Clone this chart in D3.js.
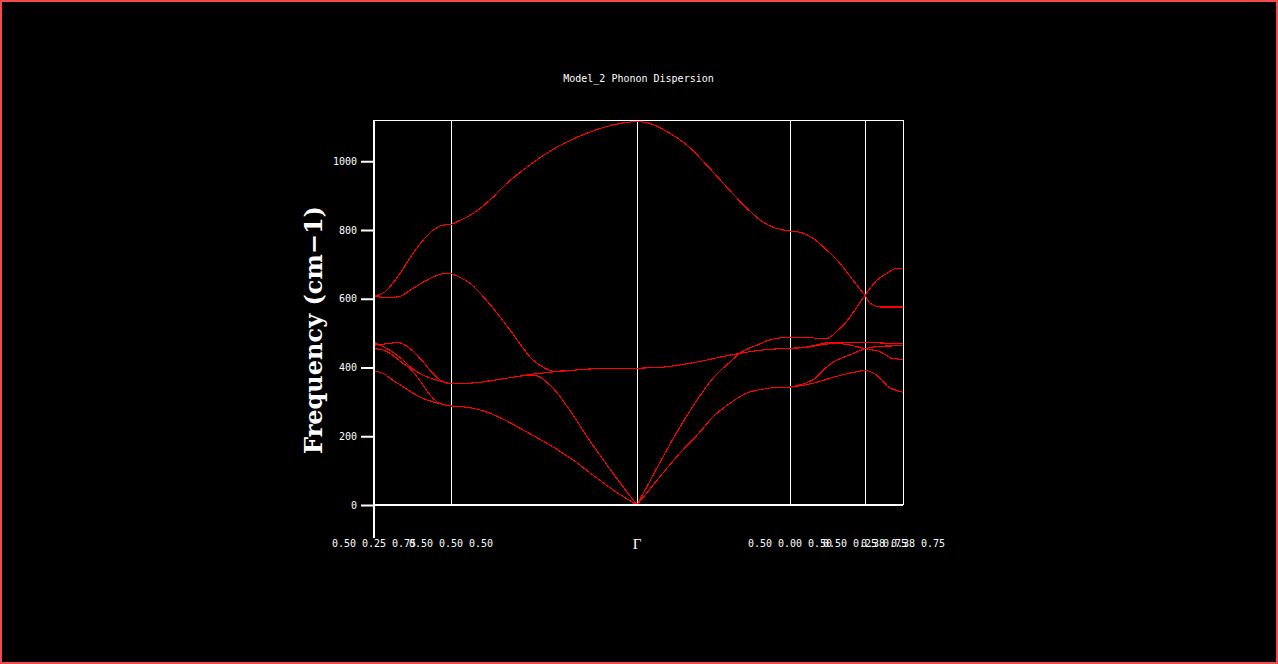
<!DOCTYPE html>
<html>
<head>
<meta charset="utf-8">
<script src="https://cdn.jsdelivr.net/npm/d3@7"></script>
<style>
  html, body { margin: 0; padding: 0; background: #000; overflow: hidden; }
  svg { display: block; }
</style>
</head>
<body>
<svg id="chart"></svg>
<script>
// high symmetry points along the path (k distance) and their labels
const kPoints = [0, 0.77, 2.63, 4.16, 4.91, 5.29];
const kLabels = [
    ["0.50", "0.25", "0.75"],
    ["0.50", "0.50", "0.50"],
    ["Γ"],
    ["0.50", "0.00", "0.50"],
    ["0.50", "0.25", "0.75"],
    ["0.38", "0.38", "0.75"]
];
const freqTicks = [0, 200, 400, 600, 800, 1000];

// bands: [k, frequency (cm-1)]
const band1 = [
    [0, 390], [0.09, 383], [0.19, 363], [0.29, 344], [0.39, 325], [0.49, 310], [0.63, 297], [0.77, 288],
    [0.98, 282], [1.16, 267], [1.33, 244], [1.53, 212], [1.79, 169], [1.99, 131], [2.19, 87], [2.39, 44], [2.63, 0],
    [2.76, 47], [2.89, 93], [3.06, 151], [3.23, 203], [3.39, 256], [3.56, 296], [3.73, 326], [3.89, 337], [4.06, 343], [4.16, 343],
    [4.31, 349], [4.44, 358], [4.61, 373], [4.78, 385], [4.91, 392],
    [4.94, 390], [5.01, 381], [5.08, 363], [5.14, 344], [5.21, 335], [5.29, 328]
];
const band2 = [
    [0, 455], [0.09, 451], [0.16, 441], [0.23, 426], [0.29, 412], [0.36, 397], [0.43, 373], [0.49, 349], [0.56, 320], [0.63, 300], [0.70, 292], [0.77, 288],
    [0.98, 282], [1.16, 267], [1.33, 244], [1.53, 212], [1.79, 169], [1.99, 131], [2.19, 87], [2.39, 44], [2.63, 0],
    [2.76, 47], [2.89, 93], [3.06, 151], [3.23, 203], [3.39, 256], [3.56, 296], [3.73, 326], [3.89, 337], [4.06, 343], [4.16, 343],
    [4.21, 346], [4.31, 354], [4.41, 368], [4.51, 397], [4.61, 419], [4.71, 431], [4.81, 443], [4.91, 455],
    [4.98, 451], [5.04, 448], [5.11, 438], [5.18, 426], [5.29, 424]
];
const band3 = [
    [0, 473], [0.06, 465], [0.13, 455], [0.23, 436], [0.29, 422], [0.36, 402], [0.43, 388], [0.49, 378], [0.63, 363], [0.77, 353],
    [0.99, 355], [1.33, 369], [1.59, 378], [1.79, 340], [1.99, 262], [2.13, 199], [2.26, 145], [2.39, 92], [2.53, 38], [2.63, 0],
    [2.76, 70], [2.89, 140], [3.06, 227], [3.23, 305], [3.39, 369], [3.56, 416], [3.66, 442], [3.83, 465], [3.99, 483], [4.16, 488],
    [4.36, 487], [4.46, 484], [4.52, 484], [4.57, 490], [4.62, 503], [4.66, 514], [4.71, 528], [4.76, 547], [4.83, 576], [4.91, 610],
    [4.96, 630], [5.03, 654], [5.13, 674], [5.23, 689], [5.29, 689]
];
const band4 = [
    [0, 465], [0.09, 468], [0.16, 470], [0.23, 473], [0.26, 472], [0.29, 468], [0.36, 455], [0.43, 436], [0.49, 417], [0.56, 392], [0.63, 371], [0.69, 358], [0.77, 353],
    [0.99, 355], [1.33, 369], [1.59, 381], [1.79, 387], [1.99, 392], [2.33, 398], [2.63, 398],
    [2.89, 401], [3.23, 416], [3.56, 436], [3.89, 451], [4.16, 456],
    [4.31, 459], [4.46, 468], [4.56, 473], [4.71, 474], [4.91, 474],
    [5.11, 471], [5.29, 471]
];
const band5 = [
    [0, 607], [0.16, 603], [0.26, 607], [0.39, 630], [0.53, 654], [0.66, 671], [0.74, 674], [0.77, 673],
    [0.96, 645], [1.19, 573], [1.36, 509], [1.59, 422], [1.71, 398], [1.79, 389], [1.99, 392], [2.33, 398], [2.63, 398],
    [2.89, 401], [3.23, 416], [3.56, 436], [3.89, 451], [4.16, 456],
    [4.31, 458], [4.46, 465], [4.61, 470], [4.71, 468], [4.81, 462], [4.91, 455],
    [4.98, 459], [5.06, 462], [5.29, 463]
];
const band6 = [
    [0, 607], [0.11, 620], [0.26, 674], [0.39, 732], [0.49, 770], [0.59, 799], [0.69, 814], [0.77, 816],
    [0.86, 828], [0.98, 846], [1.16, 887], [1.33, 936], [1.53, 983], [1.83, 1041], [2.16, 1085], [2.46, 1110], [2.63, 1116],
    [2.76, 1110], [2.96, 1081], [3.13, 1047], [3.33, 988], [3.53, 924], [3.73, 863], [3.89, 823], [3.99, 808], [4.16, 797],
    [4.29, 791], [4.39, 776], [4.53, 741], [4.66, 703], [4.79, 654], [4.91, 610],
    [4.96, 587], [5.06, 576], [5.29, 576]
];
const bands = [band1, band2, band3, band4, band5, band6];

class DispersionPlot {

    constructor( config ) {
        this.config = {
            parent: config.parent,
            width: config.width || 1278,
            height: config.height || 664,
            margin: config.margin || {top: 120, right: 375, bottom: 159, left: 374},
            title: config.title || '',
            ylabel: config.ylabel || '',
            ymax: config.ymax || 1120
        }
        this.init();
    }

    init() {
        let self = this;

        self.svg = d3.select( self.config.parent )
            .attr('width', self.config.width)
            .attr('height', self.config.height)
            .style('background', '#000');

        // red frame round the window
        self.svg.append('rect')
            .attr('x', 1).attr('y', 1)
            .attr('width', self.config.width - 2)
            .attr('height', self.config.height - 2)
            .attr('fill', 'none')
            .attr('stroke', '#f24b4b')
            .attr('stroke-width', 2);

        self.chart = self.svg.append('g')
            .attr('transform', `translate(${self.config.margin.left}, ${self.config.margin.top})`);

        self.inner_width = self.config.width - self.config.margin.left - self.config.margin.right;
        self.inner_height = self.config.height - self.config.margin.top - self.config.margin.bottom;

        self.xscale = d3.scaleLinear()
            .domain( [kPoints[0], kPoints[kPoints.length - 1]] )
            .range( [0, self.inner_width] );

        self.yscale = d3.scaleLinear()
            .domain( [0, self.config.ymax] )
            .range( [self.inner_height, 0] );

        self.yaxis = d3.axisLeft( self.yscale )
            .tickValues( freqTicks )
            .tickFormat( d3.format('d') )
            .tickSize(13)
            .tickPadding(4);
    }

    render() {
        let self = this;
        const white = '#ffffff';
        const small_font = '"DejaVu Sans Mono", monospace';

        // title
        self.svg.append('text')
            .attr('x', self.config.margin.left + self.inner_width / 2)
            .attr('y', 82)
            .attr('text-anchor', 'middle')
            .attr('fill', white)
            .style('font-family', small_font)
            .style('font-size', '10px')
            .text( self.config.title );

        // frame top
        self.chart.append('line')
            .attr('x1', 0).attr('x2', self.inner_width)
            .attr('y1', 0.5).attr('y2', 0.5)
            .attr('stroke', white).attr('stroke-width', 1);

        // high symmetry lines
        self.chart.selectAll('.kline')
            .data( kPoints.slice(1) )
            .join('line')
            .attr('class', 'kline')
            .attr('x1', d => Math.round(self.xscale(d)) + 0.5)
            .attr('x2', d => Math.round(self.xscale(d)) + 0.5)
            .attr('y1', 0)
            .attr('y2', self.inner_height)
            .attr('stroke', white)
            .attr('stroke-width', 1);

        // bands, drawn segment by segment so the kinks at the points stay sharp
        const line = d3.line()
            .x( d => self.xscale(d[0]) )
            .y( d => self.yscale(d[1]) )
            .curve( d3.curveMonotoneX );

        const pieces = [];
        bands.forEach( b => {
            for( let i = 0; i < kPoints.length - 1; i++ ) {
                const seg = b.filter( p => p[0] >= kPoints[i] && p[0] <= kPoints[i + 1] );
                if( seg.length > 1 ) pieces.push(seg);
            }
        });

        self.chart.selectAll('.band')
            .data( pieces )
            .join('path')
            .attr('class', 'band')
            .attr('d', line)
            .attr('fill', 'none')
            .attr('stroke', '#ff0000')
            .attr('stroke-width', 1.1)
            .attr('shape-rendering', 'crispEdges');

        // bottom line and left axis
        self.chart.append('line')
            .attr('x1', 0).attr('x2', self.inner_width)
            .attr('y1', self.inner_height).attr('y2', self.inner_height)
            .attr('stroke', white).attr('stroke-width', 2);

        self.chart.append('line')
            .attr('x1', 0).attr('x2', 0)
            .attr('y1', 0).attr('y2', self.inner_height + 33)
            .attr('stroke', white).attr('stroke-width', 2);

        const yaxis_group = self.chart.append('g')
            .call( self.yaxis );
        yaxis_group.select('.domain').remove();
        yaxis_group.selectAll('line')
            .attr('stroke', white)
            .attr('stroke-width', 2);
        yaxis_group.selectAll('text')
            .attr('fill', white)
            .style('font-family', small_font)
            .style('font-size', '10px');

        // k labels: fractional coordinates written left, centre, right of each point
        const label_offset = 30;
        kPoints.forEach( (k, i) => {
            const labels = kLabels[i];
            const cx = self.xscale(k);
            if( labels.length === 1 ) {
                self.chart.append('text')
                    .attr('x', cx)
                    .attr('y', self.inner_height + 44)
                    .attr('text-anchor', 'middle')
                    .attr('fill', white)
                    .style('font-family', '"Liberation Serif", serif')
                    .style('font-size', '15px')
                    .text( labels[0] );
                return;
            }
            labels.forEach( (lab, j) => {
                self.chart.append('text')
                    .attr('x', cx + (j - 1) * label_offset)
                    .attr('y', self.inner_height + 42)
                    .attr('text-anchor', 'middle')
                    .attr('fill', white)
                    .style('font-family', small_font)
                    .style('font-size', '10px')
                    .text( lab );
            });
        });

        // y label
        self.svg.append('text')
            .attr('transform', `translate(322, 330) rotate(-90)`)
            .attr('text-anchor', 'middle')
            .attr('fill', white)
            .style('font-family', '"DejaVu Serif", serif')
            .style('font-weight', 'bold')
            .style('font-size', '24px')
            .text( self.config.ylabel );
    }
}

const plot = new DispersionPlot({
    parent: '#chart',
    title: 'Model_2 Phonon Dispersion',
    ylabel: 'Frequency (cm\u22121)'
});
plot.render();
</script>
</body>
</html>
